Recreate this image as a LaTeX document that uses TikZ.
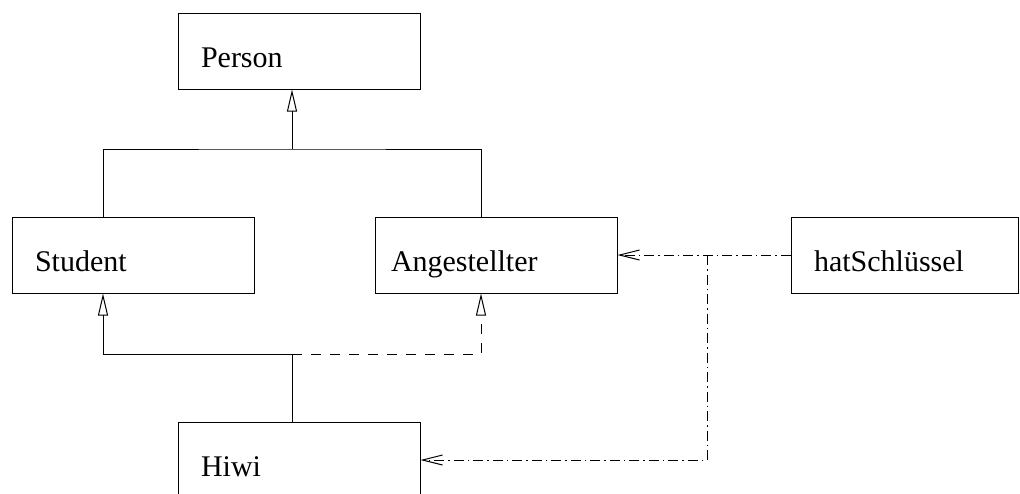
\documentclass[tikz,border=0pt]{standalone}
\usepackage{fontspec}
\setmainfont{Liberation Serif}
\usetikzlibrary{arrows.meta}

\tikzset{
  classbox/.style={draw, rectangle, line width=1pt,
    minimum width=242pt, minimum height=76pt,
    inner xsep=23pt, inner ysep=0pt, text width=196pt, align=left,
    text height=36pt, text depth=4pt,
    font=\fontsize{30}{36}\selectfont},
  wire/.style={line width=1pt},
  gentip/.style={-{Triangle[open, length=22pt, width=10pt, line width=1pt]}},
  deptip/.style={-{Straight Barb[length=20pt, width=10pt, line width=1pt]}},
  dashline/.style={dash pattern=on 10pt off 9pt},
  dashdotline/.style={dash pattern=on 10pt off 4pt on 1.5pt off 4pt},
}

\begin{document}
\begin{tikzpicture}[x=1pt, y=-1pt]
  \useasboundingbox (0,0) rectangle (1020,493);
  \clip (0,0) rectangle (1020,493);

  % classes
  \node[classbox] (person)   at (299,51)  {Person};
  \node[classbox] (student)  at (133,255) {Student};
  \node[classbox, inner xsep=16pt, text width=210pt] (angest) at (496,255) {Angestellter};
  \node[classbox, minimum width=227pt, text width=181pt] (schluessel) at (904.5,255) {hatSchlüssel};
  \node[classbox] (hiwi)     at (299,460) {Hiwi};

  % junction points of the inheritance trees
  \coordinate (upper) at (292,149);
  \coordinate (lower) at (292,354);
  \coordinate (split) at (707,255);

  % Student and Angestellter inherit from Person
  \draw[wire, gentip] (upper) -- ([xshift=-7pt]person.south);
  \draw[wire] ([xshift=-30pt]student.north) |- (upper) -| ([xshift=-15pt]angest.north);

  % Hiwi inherits from Student and (dashed) from Angestellter
  \draw[wire] ([xshift=-7pt]hiwi.north) -- (lower);
  \draw[wire, gentip] (lower) -| ([xshift=-30pt]student.south);
  \draw[wire, dashline, gentip] (lower) -| ([xshift=-15pt]angest.south);

  % hatSchluessel depends on Angestellter and Hiwi
  \draw[wire, dashdotline, deptip] (schluessel.west) -- (angest.east);
  \draw[wire, dashdotline, deptip] (split) |- (hiwi.east);
\end{tikzpicture}
\end{document}
